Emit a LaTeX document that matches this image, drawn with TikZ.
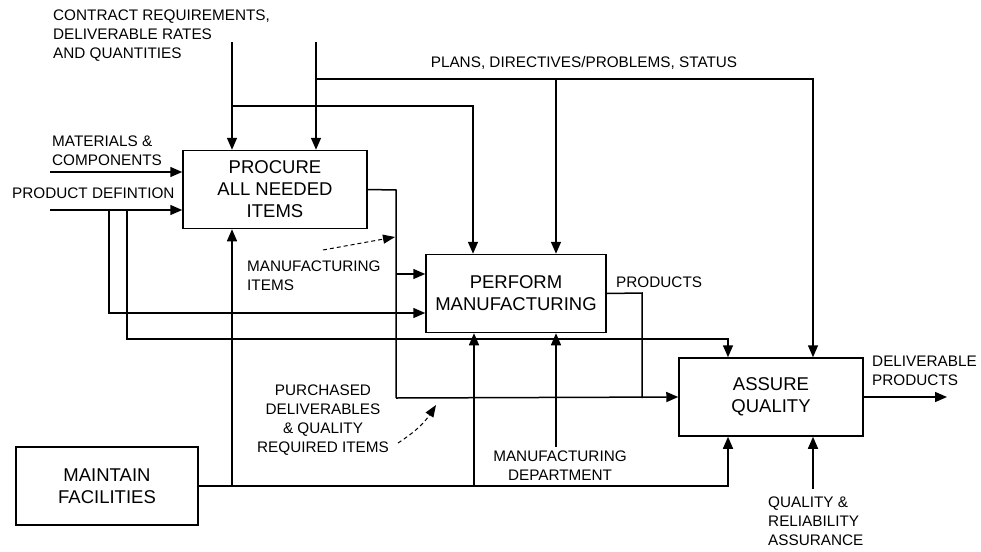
\documentclass[tikz,border=0pt]{standalone}
\usepackage{fontspec}
\setmainfont{Liberation Sans}
\usetikzlibrary{arrows.meta,positioning,calc}

\begin{document}
\begin{tikzpicture}[x=1pt,y=-1pt,
    box/.style={draw,line width=1.5pt,minimum width=#1,minimum height=78pt,inner sep=0pt,align=center,font=\fontsize{18.5}{22}\selectfont},
    lbl/.style={inner sep=0pt,align=left,font=\fontsize{15.3}{19}\selectfont},
    wire/.style={line width=1.5pt},
    arr/.style={line width=1.5pt,-{Triangle[length=12pt,width=10pt]}},
    hint/.style={line width=1pt,dashed,dash pattern=on 4pt off 3pt,-{Triangle[length=12pt,width=9pt]}}]
      \useasboundingbox (0,0) rectangle (981,551);

      \node[box=184pt] (procure) at (275,189.5) {PROCURE\\ALL NEEDED\\ITEMS};
      \node[box=180pt] (perform) at (516,293.5) {PERFORM\\MANUFACTURING};
      \node[box=184pt] (assure) at (771,397) {ASSURE\\QUALITY};
      \node[box=182pt] (maintain) at (107,486) {MAINTAIN\\FACILITIES};

      \node[lbl,anchor=west] (contract) at (53,36) {CONTRACT REQUIREMENTS,\\DELIVERABLE RATES\\AND QUANTITIES};
      \node[lbl] (plans) at (584,63) {PLANS, DIRECTIVES/PROBLEMS, STATUS};
      \node[lbl,anchor=west] (materials) at (52,151) {MATERIALS \&\\COMPONENTS};
      \node[lbl,anchor=west] (proddef) at (12,193) {PRODUCT DEFINTION};
      \node[lbl,anchor=west] (mfgitems) at (247,276) {MANUFACTURING\\ITEMS};
      \node[lbl,anchor=west] (products) at (616,282) {PRODUCTS};
      \node[lbl,align=center] (purchased) at (323,420) {PURCHASED\\DELIVERABLES\\\& QUALITY\\REQUIRED ITEMS};
      \node[lbl,align=center] (mfgdept) at (560,466) {MANUFACTURING\\DEPARTMENT};
      \node[lbl,anchor=west] (delivered) at (872,371) {DELIVERABLE\\PRODUCTS};
      \node[lbl,anchor=west] (qrassure) at (768,521) {QUALITY \&\\RELIABILITY\\ASSURANCE};

      \coordinate (ctrA) at (232,42);
      \coordinate (ctrB) at (316,42);
      \coordinate (ctrJ) at (232,106);
      \coordinate (plansL) at (316,79);
      \coordinate (plansR) at (813,79);
      \coordinate (matIn) at (50,172);
      \coordinate (pdefIn) at (50,210);
      \coordinate (pdefA) at (109,210);
      \coordinate (pdefB) at (127,210);
      \coordinate (pdefBdown) at (127,339);
      \coordinate (procOut) at (396,190);
      \coordinate (mfgJ) at (396,274);
      \coordinate (purchJ) at (396,398);
      \coordinate (prodOut) at (642,293);
      \coordinate (delivOut) at (947,397);
      \coordinate (facA) at (232,486);
      \coordinate (facB) at (474,486);
      \coordinate (facJ) at (728,486);
      \coordinate (mdeptIn) at (556,447);
      \coordinate (qraIn) at (813,489);
      \coordinate (mfgTail) at (323,250);
      \coordinate (mfgHead) at (395,237);
      \coordinate (purchTail) at (398,443);
      \coordinate (purchHead) at (436,405);

      \draw[arr] (ctrA) -- (ctrA |- procure.north);
      \draw[arr] (ctrB) -- (ctrB |- procure.north);
      \draw[arr] (ctrJ) -| ([xshift=-43pt]perform.north);
      \draw[arr] (plansL) -- (plansR) -- (plansR |- assure.north);
      \draw[arr] ([xshift=40pt]perform.north |- plansL) -- ([xshift=40pt]perform.north);

      \draw[arr] (matIn) -- (matIn -| procure.west);
      \draw[arr] (pdefIn) -- (pdefIn -| procure.west);
      \draw[arr] (pdefA) |- ([yshift=-19.5pt]perform.west);
      \draw[arr] (pdefB) -- (pdefBdown) -| ([xshift=-43pt]assure.north);

      \draw[wire] (procure.east) -- (procOut) -- (purchJ);
      \draw[arr] (purchJ) -- (assure.west);
      \draw[arr] (mfgJ) -- (mfgJ -| perform.west);
      \draw[wire] (perform.east) -- (prodOut) -- (prodOut |- purchJ);
      \draw[arr] (assure.east) -- (delivOut);

      \draw[arr] (maintain.east) -- (facJ) -- ([xshift=-43pt]assure.south);
      \draw[arr] (facA) -- (facA |- procure.south);
      \draw[arr] (facB) -- ([xshift=-42pt]perform.south);
      \draw[arr] (mdeptIn) -- ([xshift=40pt]perform.south);
      \draw[arr] (qraIn) -- (qraIn |- assure.south);

      \draw[hint] (mfgTail) -- (mfgHead);
      \draw[hint] (purchTail) to[bend right=12] (purchHead);
    \end{tikzpicture}
\end{document}
